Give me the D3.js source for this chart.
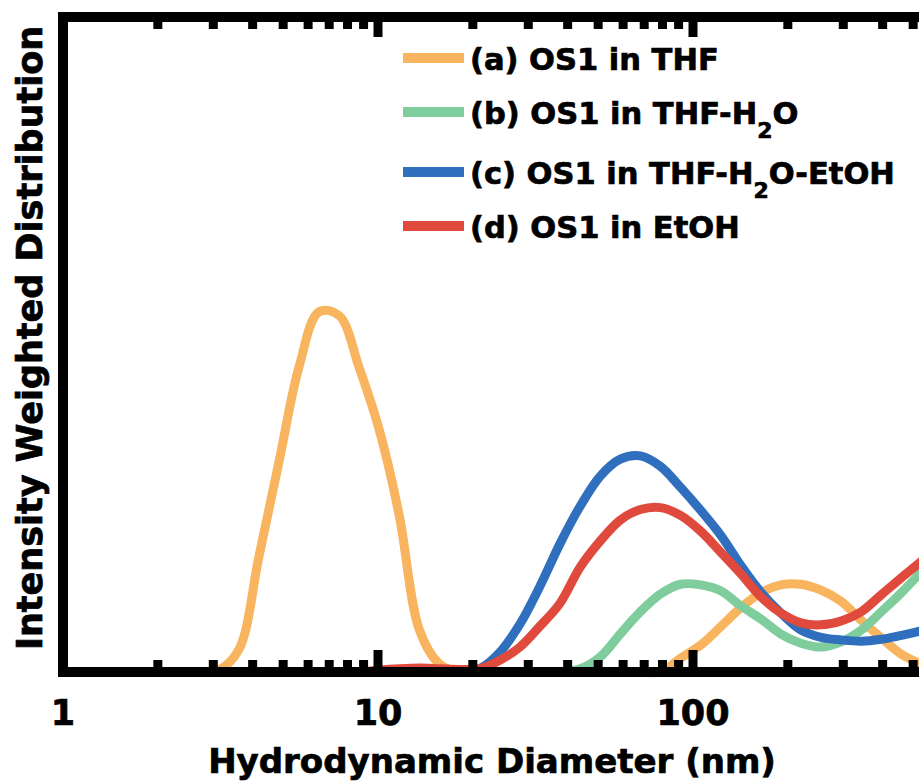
<!DOCTYPE html>
<html>
<head>
<meta charset="utf-8">
<script src="https://cdn.jsdelivr.net/npm/d3@7"></script>
<style>
  body { margin: 0; background: #fff; }
  svg { display: block; font-family: "DejaVu Sans", "Liberation Sans", sans-serif; font-weight: bold; }
  text { stroke: #000; stroke-width: 0.7px; }
</style>
</head>
<body>
<svg id="chart" width="919" height="784"></svg>
<script>
// size bins (nm)
const sizes = [0.9649, 1.117, 1.294, 1.499, 1.736, 2.010, 2.328, 2.696, 3.122, 3.615,
  4.187, 4.849, 5.615, 6.503, 7.531, 8.721, 10.10, 11.70, 13.54, 15.69,
  18.17, 21.04, 24.36, 28.21, 32.67, 37.84, 43.82, 50.75, 58.77, 68.06,
  78.82, 91.28, 105.7, 122.4, 141.8, 164.2, 190.1, 220.2, 255.0, 295.3,
  342.0, 396.1, 458.7, 531.2, 615.1];

// (a) OS1 in THF
const osThf = [0, 0, 0, 0, 0, 0, 0, 0, 0.3, 3.4,
  17.6, 32.1, 46.6, 55.0, 54.4, 46.4, 36.9, 23.7, 6.4, 1.2,
  0, 0, 0, 0, 0, 0, 0, 0, 0, 0,
  0, 2.1, 4.1, 6.9, 9.8, 12.1, 13.3, 13.4, 12.5, 10.8,
  7.9, 5.2, 2.7, 1.2, 0];
// (b) OS1 in THF-H2O
const osThfWater = [0, 0, 0, 0, 0, 0, 0, 0, 0, 0,
  0, 0, 0, 0, 0, 0, 0, 0, 0, 0,
  0, 0, 0, 0, 0, 0, 0.5, 2.3, 5.8, 9.2,
  11.9, 13.4, 13.3, 12.4, 10.1, 8.1, 5.8, 4.4, 3.8, 4.6,
  6.4, 9.2, 12.1, 15.3, 18.4];
// (c) OS1 in THF-H2O-EtOH
const osMix = [0, 0, 0, 0, 0, 0, 0, 0, 0, 0,
  0, 0, 0, 0, 0, 0, 0, 0, 0, 0,
  0, 0.5, 3.0, 7.3, 13.1, 19.6, 25.3, 29.9, 32.5, 33.0,
  31.4, 28.2, 24.7, 20.9, 16.3, 12.2, 9.0, 6.4, 5.3, 4.9,
  4.7, 5.0, 5.6, 6.3, 7.0];
// (d) OS1 in EtOH
const osEtoh = [0, 0, 0, 0, 0, 0, 0, 0, 0, 0,
  0, 0, 0, 0, 0, 0, 0.3, 0.5, 0.6, 0.5,
  0.4, 0.5, 1.8, 3.8, 7.0, 10.5, 16.0, 20.0, 23.2, 24.8,
  25.1, 23.9, 21.5, 18.3, 15.0, 11.5, 9.0, 7.5, 7.2, 7.8,
  9.2, 11.8, 14.4, 16.9, 19.5];

const seriesNames = ["(a) OS1 in THF", "(b) OS1 in THF-H2O", "(c) OS1 in THF-H2O-EtOH", "(d) OS1 in EtOH"];
const seriesColors = ["#f8b45e", "#7fcd9d", "#2f6fbd", "#e04a3d"];
const majorTicks = [1, 10, 100, 1000];
const minorTicks = [2, 3, 4, 5, 6, 7, 8, 9, 20, 30, 40, 50, 60, 70, 80, 90, 200, 300, 400, 500, 600, 700, 800, 900];
const tickLabels = [1, 10, 100];

const allSeries = [osThf, osThfWater, osMix, osEtoh];

const svg = d3.select("#chart");

// scales
const x = d3.scaleLog().domain([1, 1000]).range([63, 1008]);
const y = d3.scaleLinear().domain([0, 100]).range([672, 17]);

// curves
const line = d3.line()
  .x(d => x(d[0]))
  .y(d => y(d[1]))
  .curve(d3.curveCatmullRom.alpha(0.5));

allSeries.forEach((vals, i) => {
  svg.append("path")
    .datum(sizes.map((s, j) => [s, vals[j]]))
    .attr("d", line)
    .attr("fill", "none")
    .attr("stroke", seriesColors[i])
    .attr("stroke-width", 9)
    .attr("stroke-linejoin", "round")
    .attr("stroke-linecap", "butt");
});

// frame
svg.append("rect")
  .attr("x", x(1))
  .attr("y", y(100))
  .attr("width", x(1000) - x(1))
  .attr("height", y(0) - y(100))
  .attr("fill", "none")
  .attr("stroke", "#000")
  .attr("stroke-width", 10);

// bottom ticks (pointing up)
const tickW = 9;
svg.selectAll(".btick")
  .data(majorTicks.concat(minorTicks))
  .enter().append("line")
  .attr("x1", d => x(d)).attr("x2", d => x(d))
  .attr("y1", y(0))
  .attr("y2", d => majorTicks.includes(d) ? y(0) - 22 : y(0) - 12)
  .attr("stroke", "#000")
  .attr("stroke-width", tickW);

// top ticks (pointing down)
svg.selectAll(".ttick")
  .data(majorTicks.concat(minorTicks))
  .enter().append("line")
  .attr("x1", d => x(d)).attr("x2", d => x(d))
  .attr("y1", y(100))
  .attr("y2", d => majorTicks.includes(d) ? y(100) + 20 : y(100) + 12)
  .attr("stroke", "#000")
  .attr("stroke-width", tickW);

// tick labels
svg.selectAll(".tlabel")
  .data(tickLabels)
  .enter().append("text")
  .attr("x", d => x(d))
  .attr("y", 725)
  .attr("text-anchor", "middle")
  .attr("font-size", 35)
  .text(d => d);

// axis titles
svg.append("text")
  .attr("x", 492)
  .attr("y", 773)
  .attr("text-anchor", "middle")
  .attr("font-size", 34)
  .text("Hydrodynamic Diameter (nm)");

svg.append("text")
  .attr("transform", "translate(42,338) rotate(-90)")
  .attr("text-anchor", "middle")
  .attr("font-size", 35)
  .text("Intensity Weighted Distribution");

// legend
const legendY = [58, 112, 172, 226];
seriesNames.forEach((name, i) => {
  const g = svg.append("g");
  g.append("line")
    .attr("x1", 403).attr("x2", 464)
    .attr("y1", legendY[i]).attr("y2", legendY[i])
    .attr("stroke", seriesColors[i])
    .attr("stroke-width", 10);
  const t = g.append("text")
    .attr("x", 470)
    .attr("y", legendY[i] + 12)
    .attr("font-size", 30.5);
  const parts = name.split(/(?<=H)2(?=O)/);
  parts.forEach((p, k) => {
    if (k > 0) {
      t.append("tspan").attr("font-size", 22).attr("dy", 14).text("2");
      t.append("tspan").attr("dy", -14).text(p);
    } else {
      t.append("tspan").text(p);
    }
  });
});
</script>
</body>
</html>
